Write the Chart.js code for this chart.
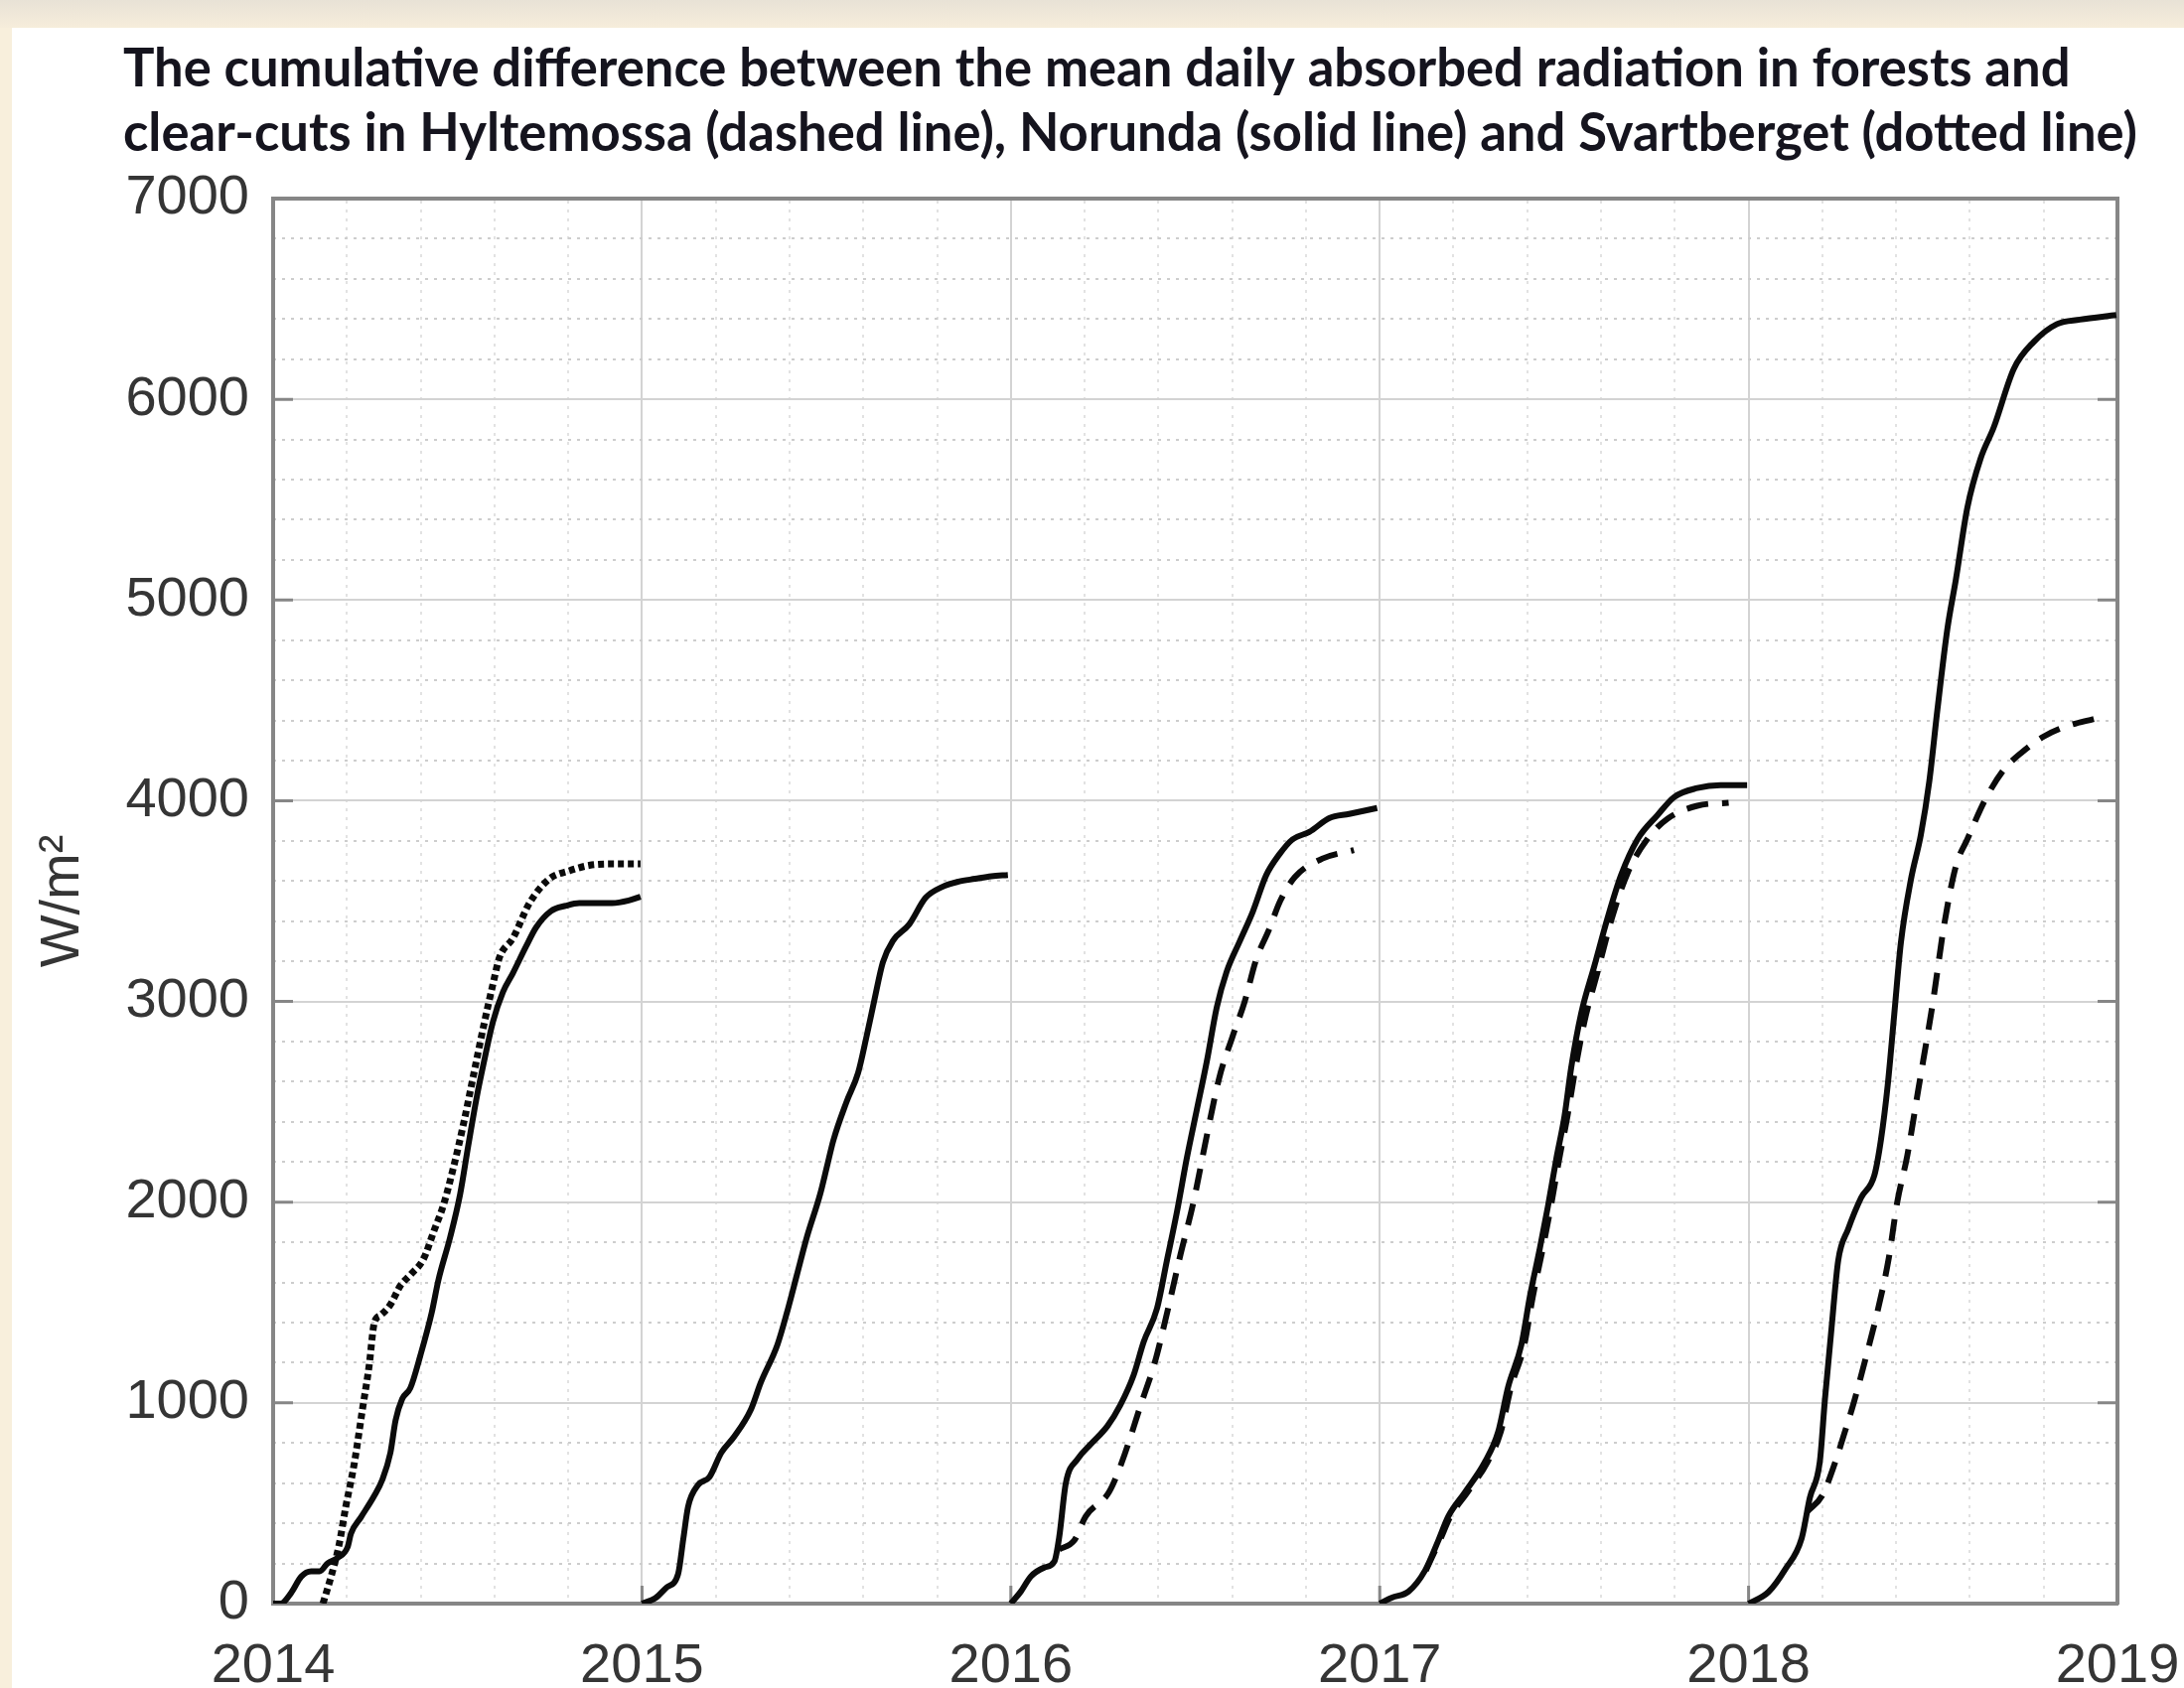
<!DOCTYPE html>
<html>
<head>
<meta charset="utf-8">
<script src="https://cdn.jsdelivr.net/npm/chart.js@4.4.1/dist/chart.umd.min.js"></script>
<style>
  html, body { margin: 0; padding: 0; background: #f7eedb; }
  #wrap { width: 2199px; height: 1700px; }
</style>
</head>
<body>
<div id="wrap"><canvas id="radChart" width="2199" height="1700"></canvas></div>
<script>
// title text
var titleLines = [
  'The cumulative difference between the mean daily absorbed radiation in forests and',
  'clear-cuts in Hyltemossa (dashed line), Norunda (solid line) and Svartberget (dotted line)'
];

// x = decimal year, y = W/m2 ; null separates the yearly segments
var norundaX = [
  2014.000, 2014.020, 2014.049, 2014.076, 2014.103, 2014.126, 2014.148, 2014.175, 2014.202, 2014.211,
  2014.238, 2014.274, 2014.296, 2014.318, 2014.332, 2014.350, 2014.372, 2014.399, 2014.430, 2014.448,
  2014.480, 2014.507, 2014.529, 2014.552, 2014.570, 2014.596, 2014.623, 2014.650, 2014.686, 2014.713,
  2014.753, 2014.794, 2014.830, 2014.874, 2014.919, 2014.964, 2014.996, null,
  2015.000, 2015.036, 2015.067, 2015.098, 2015.112, 2015.125, 2015.152, 2015.183, 2015.215, 2015.250,
  2015.295, 2015.322, 2015.367, 2015.393, 2015.420, 2015.447, 2015.483, 2015.501, 2015.519, 2015.554,
  2015.586, 2015.608, 2015.630, 2015.653, 2015.680, 2015.724, 2015.769, 2015.813, 2015.858, 2015.903,
  2015.947, 2015.992, null,
  2016.000, 2016.027, 2016.054, 2016.091, 2016.118, 2016.131, 2016.149, 2016.181, 2016.217, 2016.262,
  2016.297, 2016.333, 2016.360, 2016.396, 2016.423, 2016.450, 2016.477, 2016.504, 2016.531, 2016.558,
  2016.585, 2016.620, 2016.656, 2016.692, 2016.728, 2016.764, 2016.809, 2016.863, 2016.917, 2016.993, null,
  2017.000, 2017.033, 2017.078, 2017.123, 2017.159, 2017.186, 2017.231, 2017.285, 2017.321, 2017.348,
  2017.384, 2017.407, 2017.434, 2017.456, 2017.479, 2017.501, 2017.519, 2017.546, 2017.582, 2017.618,
  2017.654, 2017.699, 2017.753, 2017.798, 2017.861, 2017.924, 2017.996, null,
  2018.000, 2018.054, 2018.099, 2018.144, 2018.166, 2018.193, 2018.207, 2018.225, 2018.243, 2018.270,
  2018.305, 2018.341, 2018.359, 2018.377, 2018.395, 2018.413, 2018.440, 2018.467, 2018.490, 2018.512,
  2018.539, 2018.562, 2018.593, 2018.629, 2018.665, 2018.719, 2018.773, 2018.836, 2018.898, 2018.997
];
var norundaY = [
  0, 0, 54, 134, 161, 161, 201, 228, 282, 349,
  430, 537, 617, 752, 913, 1020, 1074, 1235, 1450, 1611,
  1826, 2040, 2282, 2523, 2685, 2899, 3047, 3141, 3275, 3369,
  3450, 3477, 3490, 3490, 3490, 3503, 3522, null,
  0, 27, 81, 148, 322, 483, 591, 631, 752, 832,
  966, 1101, 1289, 1450, 1638, 1826, 2040, 2174, 2309, 2497,
  2645, 2819, 3007, 3195, 3302, 3383, 3517, 3570, 3597, 3611,
  3624, 3630, null,
  0, 60, 135, 180, 210, 330, 600, 720, 795, 885,
  990, 1139, 1304, 1469, 1709, 1949, 2219, 2459, 2699, 2969,
  3148, 3298, 3448, 3628, 3733, 3808, 3844, 3913, 3934, 3964, null,
  0, 30, 60, 165, 315, 435, 555, 705, 855, 1079,
  1289, 1529, 1769, 1979, 2219, 2429, 2669, 2939, 3178, 3418,
  3628, 3808, 3928, 4018, 4063, 4078, 4078, null,
  0, 58, 170, 326, 527, 705, 1018, 1375, 1710, 1866,
  2022, 2134, 2313, 2580, 2938, 3295, 3607, 3830, 4098, 4455,
  4857, 5103, 5460, 5705, 5862, 6152, 6286, 6375, 6397, 6420
];

var hyltemossaX = [
  2016.131, 2016.172, 2016.203, 2016.266, 2016.300, 2016.354, 2016.390, 2016.425, 2016.460, 2016.495,
  2016.530, 2016.565, 2016.600, 2016.634, 2016.665, 2016.700, 2016.730, 2016.770, 2016.845, 2016.930, null,
  2017.125, 2017.163, 2017.192, 2017.238, 2017.292, 2017.328, 2017.356, 2017.392, 2017.415, 2017.442,
  2017.464, 2017.487, 2017.509, 2017.528, 2017.555, 2017.591, 2017.627, 2017.672, 2017.726, 2017.780,
  2017.861, 2017.946, null,
  2018.160, 2018.200, 2018.234, 2018.260, 2018.285, 2018.320, 2018.350, 2018.380, 2018.403, 2018.430,
  2018.460, 2018.500, 2018.530, 2018.562, 2018.593, 2018.640, 2018.690, 2018.740, 2018.800, 2018.854,
  2018.943
];
var hyltemossaY = [
  270, 315, 435, 555, 700, 1000, 1200, 1460, 1740, 2000,
  2320, 2620, 2820, 3000, 3208, 3358, 3500, 3620, 3712, 3754, null,
  165, 315, 435, 555, 705, 855, 1079, 1289, 1529, 1769,
  1979, 2219, 2429, 2640, 2900, 3150, 3400, 3640, 3810, 3910,
  3975, 3990, null,
  460, 540, 700, 850, 1000, 1240, 1460, 1720, 2000, 2230,
  2560, 3000, 3380, 3674, 3808, 4000, 4150, 4240, 4320, 4366,
  4411
];

var svartbergetX = [
  2014.135, 2014.157, 2014.179, 2014.197, 2014.220, 2014.242, 2014.260, 2014.274, 2014.291, 2014.318,
  2014.345, 2014.372, 2014.408, 2014.435, 2014.462, 2014.489, 2014.516, 2014.543, 2014.570, 2014.596,
  2014.614, 2014.650, 2014.695, 2014.749, 2014.803, 2014.857, 2014.919, 2014.996
];
var svartbergetY = [
  0, 134, 295, 483, 698, 966, 1181, 1396, 1436, 1490,
  1584, 1638, 1718, 1852, 1987, 2174, 2389, 2631, 2872, 3087,
  3221, 3315, 3490, 3611, 3651, 3678, 3685, 3685
];

var xTicks = [2014, 2015, 2016, 2017, 2018, 2019];
var yTicks = [0, 1000, 2000, 3000, 4000, 5000, 6000, 7000];

function toPoints(xs, ys) {
  var last = xs[0];
  return xs.map(function(x, i) {
    if (x === null) return { x: last, y: null }; // gap between years
    last = x;
    return { x: x, y: ys[i] };
  });
}

var tickFont = { family: '"Liberation Sans", Arial, sans-serif', size: 56 };
var frameColor = '#868686';

// page background: beige paper with a white panel
var paperBackground = {
  id: 'paperBackground',
  beforeDraw: function(chart) {
    var ctx = chart.ctx;
    ctx.save();
    ctx.fillStyle = '#f8efdc';
    ctx.fillRect(0, 0, chart.width, chart.height);
    var g = ctx.createLinearGradient(0, 0, 0, 28);
    g.addColorStop(0, '#e8e2d6');
    g.addColorStop(1, '#f6eddb');
    ctx.fillStyle = g;
    ctx.fillRect(0, 0, chart.width, 28);
    ctx.fillStyle = '#ffffff';
    ctx.fillRect(12, 28, chart.width - 12, chart.height - 28);
    ctx.restore();
  }
};

// two-line title, left aligned above the plot
var leftTitle = {
  id: 'leftTitle',
  afterDraw: function(chart) {
    var ctx = chart.ctx;
    ctx.save();
    var size = 46;
    ctx.font = 'bold ' + size + 'px Lato, "Open Sans", sans-serif';
    var w = ctx.measureText(titleLines[1]).width;
    size = size * 2030 / w;
    ctx.font = 'bold ' + size.toFixed(1) + 'px Lato, "Open Sans", sans-serif';
    ctx.fillStyle = '#15141e';
    ctx.textAlign = 'left';
    ctx.textBaseline = 'alphabetic';
    ctx.fillText(titleLines[0], 124, 87);
    ctx.fillText(titleLines[1], 124, 152);
    ctx.restore();
  }
};

// short tick marks pointing into the plot (left, right, bottom)
var innerTicks = {
  id: 'innerTicks',
  beforeDatasetsDraw: function(chart) {
    var ctx = chart.ctx, a = chart.chartArea;
    var x = chart.scales.x, y = chart.scales.y;
    ctx.save();
    ctx.strokeStyle = frameColor;
    ctx.lineWidth = 3;
    ctx.beginPath();
    y.ticks.forEach(function(t) {
      var py = y.getPixelForValue(t.value);
      ctx.moveTo(a.left, py); ctx.lineTo(a.left + 20, py);
      ctx.moveTo(a.right, py); ctx.lineTo(a.right - 20, py);
    });
    x.ticks.forEach(function(t) {
      var px = x.getPixelForValue(t.value);
      ctx.moveTo(px, a.bottom); ctx.lineTo(px, a.bottom - 18);
    });
    ctx.stroke();
    ctx.restore();
  }
};

var ctx1 = document.getElementById('radChart').getContext('2d');
var radChart = new Chart(ctx1, {
  type: 'line',
  data: {
    datasets: [{
      label: 'Norunda',
      data: toPoints(norundaX, norundaY),
      borderColor: '#0b0b0b',
      borderWidth: 6
    }, {
      label: 'Hyltemossa',
      data: toPoints(hyltemossaX, hyltemossaY),
      borderColor: '#0b0b0b',
      borderWidth: 6,
      borderDash: [22, 14]
    }, {
      label: 'Svartberget',
      data: toPoints(svartbergetX, svartbergetY),
      borderColor: '#0b0b0b',
      borderWidth: 7,
      borderDash: [6, 4]
    }]
  },
  options: {
    responsive: false,
    animation: false,
    devicePixelRatio: 1,
    spanGaps: false,
    elements: {
      point: { radius: 0 },
      line: { cubicInterpolationMode: 'monotone', borderCapStyle: 'butt', fill: false }
    },
    layout: { padding: { left: 12, right: 67, top: 200, bottom: 0 } },
    plugins: {
      legend: { display: false },
      title: { display: false },
      tooltip: { enabled: false }
    },
    scales: {
      x: {
        type: 'linear',
        position: 'bottom',
        min: xTicks[0],
        max: xTicks[xTicks.length - 1],
        afterBuildTicks: function(scale) {
          scale.ticks = xTicks.map(function(v) { return { value: v }; });
        },
        afterFit: function(scale) {
          scale.height = 85;
          scale.paddingLeft = 0;
          scale.paddingRight = 0;
        },
        ticks: {
          font: tickFont,
          color: '#353535',
          padding: 30,
          maxRotation: 0,
          autoSkip: false,
          callback: function(v) { return String(v); }
        },
        grid: { color: '#d3d3d3', lineWidth: 2, drawTicks: false },
        border: { display: true, color: frameColor, width: 4 }
      },
      xMinor: {
        type: 'linear',
        position: 'top',
        min: xTicks[0],
        max: xTicks[xTicks.length - 1],
        ticks: { display: false, stepSize: 0.2 },
        grid: {
          drawTicks: false,
          lineWidth: 2,
          color: function(c) {
            var v = c.tick ? c.tick.value : 0;
            return Math.abs(v - Math.round(v)) < 1e-6 ? 'rgba(0,0,0,0)' : '#e2e2e2';
          }
        },
        border: { display: true, color: frameColor, width: 4, dash: [3, 6] }
      },
      y: {
        type: 'linear',
        position: 'left',
        min: yTicks[0],
        max: yTicks[yTicks.length - 1],
        afterBuildTicks: function(scale) {
          scale.ticks = yTicks.map(function(v) { return { value: v }; });
        },
        afterFit: function(scale) {
          scale.width = 263;
          scale.paddingTop = 0;
          scale.paddingBottom = 0;
        },
        ticks: {
          font: tickFont,
          color: '#353535',
          padding: 24,
          callback: function(v) { return String(v); }
        },
        title: {
          display: true,
          text: 'W/m\u00b2',
          font: tickFont,
          color: '#353535',
          padding: { top: 18, bottom: 0 }
        },
        grid: { color: '#d3d3d3', lineWidth: 2, drawTicks: false },
        border: { display: true, color: frameColor, width: 4 }
      },
      yMinor: {
        type: 'linear',
        position: 'right',
        min: yTicks[0],
        max: yTicks[yTicks.length - 1],
        ticks: { display: false, stepSize: 200 },
        grid: {
          drawTicks: false,
          lineWidth: 2,
          color: function(c) {
            var v = c.tick ? c.tick.value : 0;
            return v % 1000 === 0 ? 'rgba(0,0,0,0)' : '#cdcdcd';
          }
        },
        border: { display: true, color: frameColor, width: 4, dash: [3, 6] }
      }
    }
  },
  plugins: [paperBackground, innerTicks, leftTitle]
});
</script>
</body>
</html>
